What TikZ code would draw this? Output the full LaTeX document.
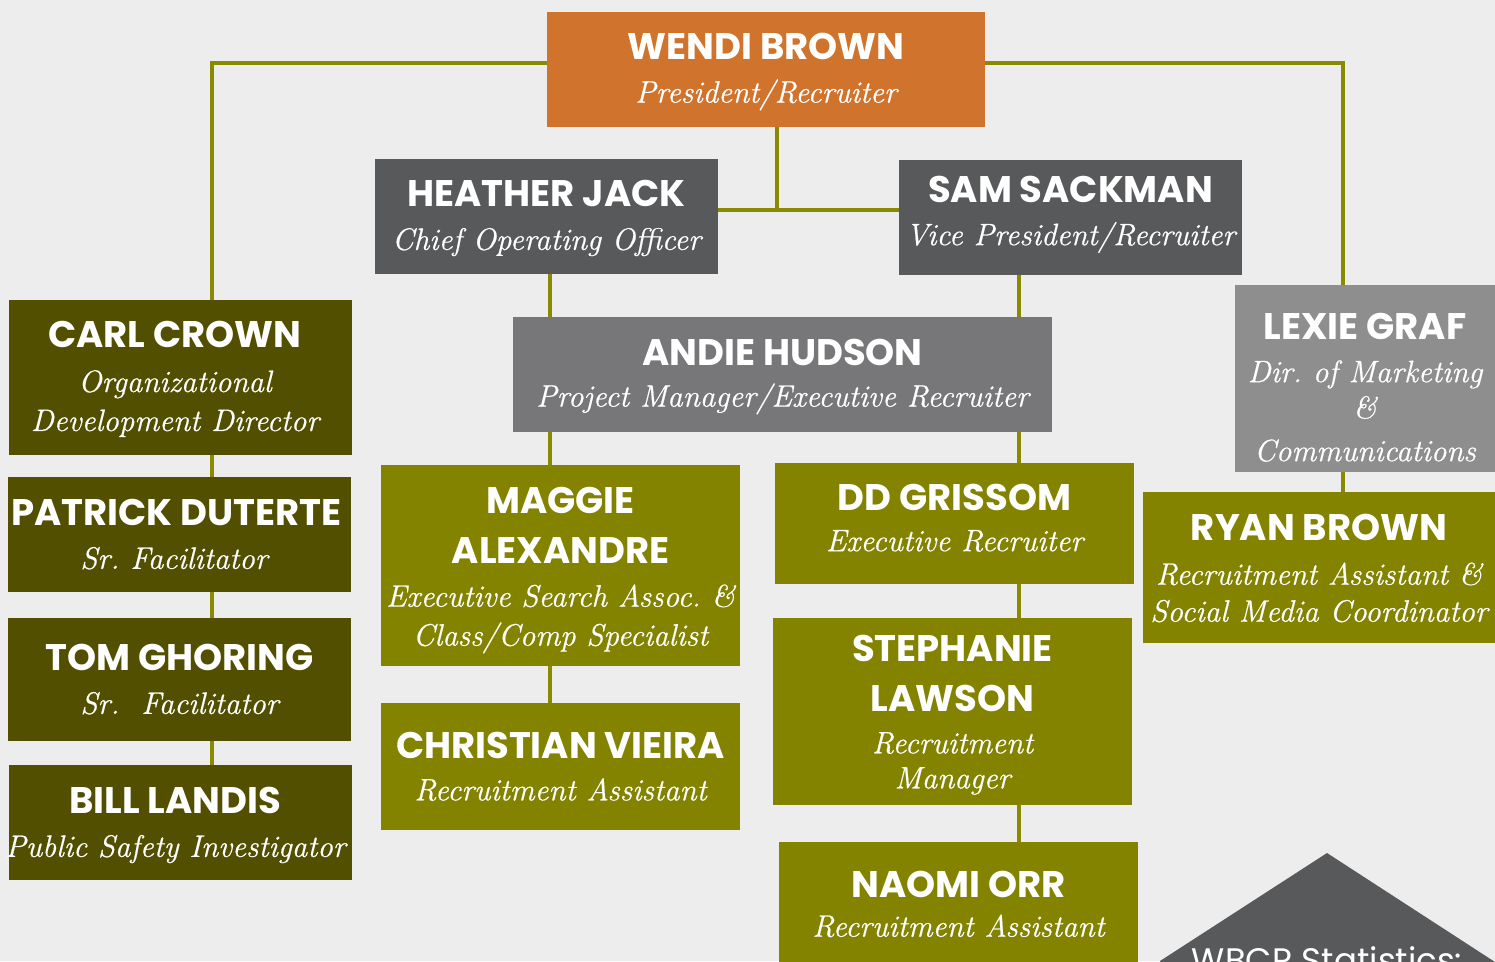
\documentclass[tikz,border=0pt]{standalone}
\usepackage{fontspec}
\setmainfont{Latin Modern Roman}[ItalicFeatures={FakeBold=0.6}]
\setsansfont{Poppins}
\frenchspacing
\definecolor{bg}{HTML}{EDEDED}
\definecolor{orng}{HTML}{D0742D}
\definecolor{dgray}{HTML}{58595B}
\definecolor{mgray}{HTML}{777779}
\definecolor{lgray}{HTML}{8E8E8E}
\definecolor{olv}{HTML}{838300}
\definecolor{dolv}{HTML}{525000}
\definecolor{lineol}{HTML}{8A8A00}
\newcommand\nm[1]{{\sffamily\bfseries\upshape\fontsize{37}{40}\selectfont #1}}
\newcommand\up[1]{\rule{0pt}{#1pt}}
\newcommand\lsh{\kern11pt}
\tikzset{
  box/.style={inner sep=0pt, outer sep=0pt, text=white, align=center,
    font=\fontsize{31}{39}\selectfont\itshape\frenchspacing},
  conn/.style={draw=lineol, line width=4pt},
}
\begin{document}
\begin{tikzpicture}[x=1pt,y=1pt]
\useasboundingbox (0,0) rectangle (1495,-961);
\clip (0,0) rectangle (1495,-961);
\fill[bg] (0,0) rectangle (1495,-961);
% line x positions
\coordinate (xL) at (212,0);
\coordinate (xM) at (550,0);
\coordinate (xC) at (777,0);
\coordinate (xR) at (1019,0);
\coordinate (xF) at (1343,0);
\coordinate (yT) at (0,-63);
\coordinate (yJ) at (0,-210);
% boxes
\node[box, fill=orng, minimum width=438, minimum height=115] (wendi) at (766,-69.5)
  {\up{31}\nm{WENDI BROWN}\\[4pt] President/Recruiter};
\node[box, fill=dgray, minimum width=343, minimum height=115] (heather) at (546.5,-216.5)
  {\up{30}\nm{HEATHER JACK}\\[4pt] Chief Operating Officer};
\node[box, fill=dgray, minimum width=343, minimum height=115] (sam) at (1070.5,-217.5)
  {\nm{SAM SACKMAN}\\[4pt] Vice President/Recruiter\up{1}\rule[-14pt]{0pt}{1pt}};
\node[box, fill=mgray, minimum width=539, minimum height=115] (andie) at (782.5,-374.5)
  {\up{31}\nm{ANDIE HUDSON}\\[2pt] Project Manager/Executive Recruiter};
\node[box, fill=lgray, minimum width=260, minimum height=187] (lexie) at (1365,-378.5)
  {\up{44}\nm{LEXIE GRAF}\\[4pt] Dir. of Marketing\\[-3pt] \&\\[4pt] Communications};
\node[box, fill=olv, minimum width=352, minimum height=151] (ryan) at (1319,-567.5)
  {\up{28}\nm{RYAN BROWN}\\[5pt] Recruitment Assistant \&\\[-2pt] Social Media Coordinator};
\node[box, fill=dolv, minimum width=343, minimum height=155] (carl) at (180.5,-377.5)
  {\up{30}\nm{CARL CROWN}\lsh\\[5pt] Organizational\lsh\\ Development Director\lsh};
\node[box, fill=dolv, minimum width=343, minimum height=115] (patrick) at (179.5,-534.5)
  {\nm{PATRICK DUTERTE}\kern6pt\\[4pt] Sr. Facilitator\lsh};
\node[box, fill=dolv, minimum width=343, minimum height=123] (tom) at (179.5,-679.5)
  {\nm{TOM GHORING}\\[4pt] Sr.\ \ Facilitator};
\node[box, fill=dolv, minimum width=343, minimum height=115] (bill) at (180.5,-822.5)
  {\up{32}\nm{BILL LANDIS}\lsh\\[4pt] \hbox to 320pt{\hss Public Safety Investigator\hss}\kern10pt};
\node[box, fill=olv, minimum width=359, minimum height=201] (maggie) at (560.5,-565.5)
  {\up{36}\nm{MAGGIE}\\[11pt] \nm{ALEXANDRE}\\[4pt] Executive Search Assoc. \&\\ Class/Comp Specialist};
\node[box, fill=olv, minimum width=359, minimum height=127] (christian) at (560.5,-766.5)
  {\nm{CHRISTIAN VIEIRA}\\[3pt] Recruitment Assistant};
\node[box, fill=olv, minimum width=359, minimum height=121] (dd) at (954.5,-523.5)
  {\nm{DD GRISSOM}\\[2pt] Executive Recruiter\rule[-12pt]{0pt}{1pt}};
\node[box, fill=olv, minimum width=359, minimum height=187] (stephanie) at (952.5,-711.5)
  {\up{33}\nm{STEPHANIE}\\[11pt] \nm{LAWSON}\\[3pt] Recruitment\\[-4pt] Manager};
\node[box, fill=olv, minimum width=359, minimum height=132] (naomi) at (958.5,-908)
  {\nm{NAOMI ORR}\\[0pt] Recruitment Assistant\rule[-8pt]{0pt}{1pt}};
% stats shape
\fill[dgray] (1327,-853) -- (1495,-962) -- (1495,-1000) -- (1160,-1000) -- (1160,-961) -- cycle;
\node[anchor=base, text=white, font=\sffamily\fontsize{34}{40}\selectfont, inner sep=0pt] (stats) at (1327,-972) {WBCR Statistics:};
% connectors
\draw[conn] (wendi.west |- yT) -| (carl.north -| xL);
\draw[conn] (wendi.east |- yT) -| (lexie.north -| xF);
\draw[conn] (wendi.south -| xC) -- (xC |- yJ);
\draw[conn] (heather.east |- yJ) -- (sam.west |- yJ);
\draw[conn] (heather.south -| xM) -- (andie.north -| xM);
\draw[conn] (sam.south -| xR) -- (andie.north -| xR);
\draw[conn] (andie.south -| xM) -- (maggie.north -| xM);
\draw[conn] (andie.south -| xR) -- (dd.north -| xR);
\draw[conn] (maggie.south -| xM) -- (christian.north -| xM);
\draw[conn] (dd.south -| xR) -- (stephanie.north -| xR);
\draw[conn] (stephanie.south -| xR) -- (naomi.north -| xR);
\draw[conn] (lexie.south -| xF) -- (ryan.north -| xF);
\draw[conn] (carl.south -| xL) -- (patrick.north -| xL);
\draw[conn] (patrick.south -| xL) -- (tom.north -| xL);
\draw[conn] (tom.south -| xL) -- (bill.north -| xL);
\end{tikzpicture}
\end{document}
